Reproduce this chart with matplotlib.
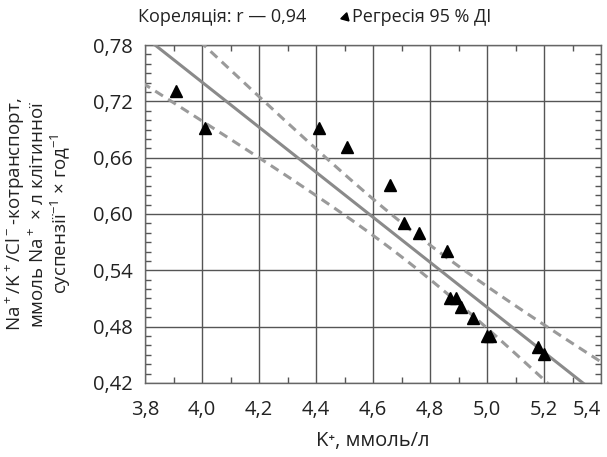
import numpy as np
import matplotlib
matplotlib.use("Agg")
import matplotlib.pyplot as plt
from matplotlib.ticker import MultipleLocator

plt.rcParams['font.family'] = ['Open Sans', 'DejaVu Sans']
plt.rcParams['mathtext.fontset'] = 'custom'
plt.rcParams['mathtext.rm'] = 'Open Sans'

# K+ (mmol/l) vs Na+/K+/Cl- cotransport
k_plus = [3.91, 4.01, 4.41, 4.51, 4.66, 4.71, 4.76, 4.86,
          4.87, 4.89, 4.91, 4.95, 5.00, 5.01, 5.18, 5.20]
cotransport = [0.731, 0.692, 0.692, 0.671, 0.631, 0.590, 0.580, 0.561,
               0.510, 0.510, 0.501, 0.489, 0.470, 0.470, 0.458, 0.451]
t_crit = 2.145  # t(0.975, df=14)

x_ticks = [3.8, 4.0, 4.2, 4.4, 4.6, 4.8, 5.0, 5.2, 5.4]
x_labels = ['3,8', '4,0', '4,2', '4,4', '4,6', '4,8', '5,0', '5,2', '5,4']
y_ticks = [0.42, 0.48, 0.54, 0.60, 0.66, 0.72, 0.78]
y_labels = ['0,42', '0,48', '0,54', '0,60', '0,66', '0,72', '0,78']

x = np.array(k_plus)
y = np.array(cotransport)
n = len(x)
slope, intercept = np.polyfit(x, y, 1)
resid = y - (slope * x + intercept)
s = np.sqrt(np.sum(resid ** 2) / (n - 2))
sxx = np.sum((x - x.mean()) ** 2)

xs = np.linspace(3.7, 5.5, 200)
yfit = slope * xs + intercept
half = t_crit * s * np.sqrt(1.0 / n + (xs - x.mean()) ** 2 / sxx)

fig = plt.figure(figsize=(6.07, 4.57), dpi=100)
ax = fig.add_axes([0.2389, 0.162, 0.7515, 0.7395])

ax.plot(xs, yfit, color='#8a8a8a', lw=2.2, zorder=3)
ax.plot(xs, yfit + half, color='#9a9a9a', lw=2.2, ls=(0, (3, 2)), zorder=3)
ax.plot(xs, yfit - half, color='#9a9a9a', lw=2.2, ls=(0, (3, 2)), zorder=3)
ax.plot(x, y, '^', color='black', ms=8, zorder=4)

ax.set_xlim(3.8, 5.4)
ax.set_ylim(0.42, 0.78)
ax.set_xticks(x_ticks, x_labels)
ax.set_yticks(y_ticks, y_labels)
ax.xaxis.set_minor_locator(MultipleLocator(0.1))
ax.yaxis.set_minor_locator(MultipleLocator(0.01))
ax.get_xticklabels()[-1].set_ha('right')
ax.grid(True, which='major', color='#555555', lw=1.0)
ax.tick_params(which='major', length=0, labelsize=14.5, colors='#222222')
ax.tick_params(axis='x', which='major', pad=12)
ax.tick_params(axis='y', which='major', pad=9)
ax.tick_params(which='minor', direction='in', length=4, width=1, color='#555555',
               top=True, right=True)
for sp in ax.spines.values():
    sp.set_color('#666666')
    sp.set_linewidth(1.0)

ax.set_xlabel('K⁺, ммоль/л', fontsize=14.5, labelpad=8, color='#222222')
ax.set_ylabel('Na$^+$/K$^+$/Cl$^-$-котранспорт,\nммоль Na$^+$ × л клітинної\nсуспензії$^{-1}$ × год$^{-1}$',
              fontsize=13.5, labelpad=14, color='#222222', linespacing=1.05)

fig.text(0.3664, 0.962, 'Кореляція: r — 0,94', fontsize=13, ha='center', va='center', color='#222222')
fig.text(0.580, 0.962, 'Регресія 95 % ДІ', fontsize=13, ha='left', va='center', color='#222222')
ax.plot([0.569], [0.962], marker=(3, 0, 225), color='black', ms=7,
        transform=fig.transFigure, clip_on=False)

fig.savefig('out.png', dpi=100)
